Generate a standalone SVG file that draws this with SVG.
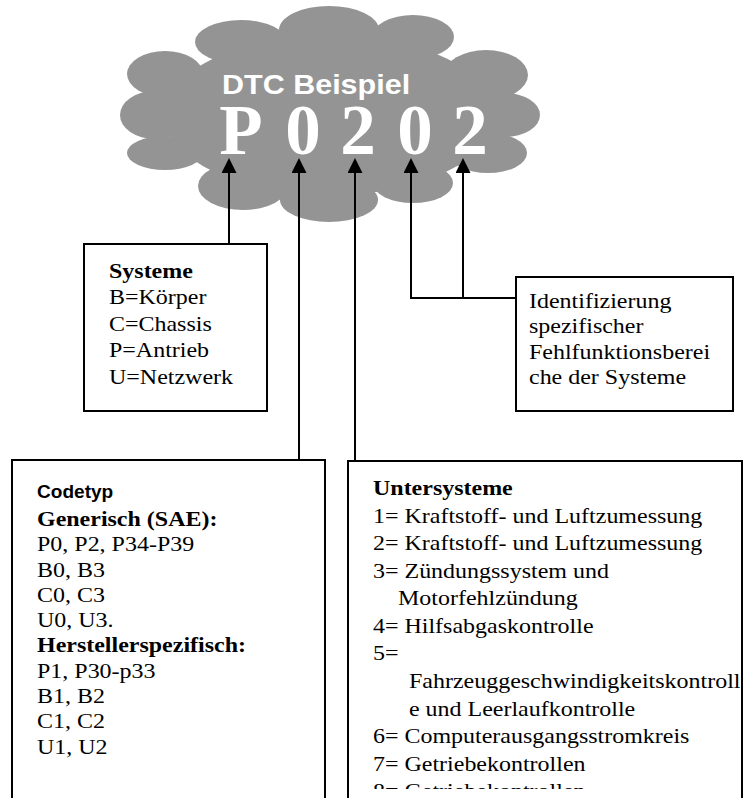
<svg xmlns="http://www.w3.org/2000/svg" width="744" height="798" viewBox="0 0 744 798">
<style>
.box{fill:#fff;stroke:#000;stroke-width:2}
.ln{fill:none;stroke:#000;stroke-width:2}
.tm{font-family:"Liberation Serif","Times New Roman",serif;font-size:22px;fill:#000}
.b{font-weight:bold}
.ar{font-family:"Liberation Sans",Arial,sans-serif;font-weight:bold}
.big{font-family:"Liberation Serif","Times New Roman",serif;font-weight:bold;font-size:71px;fill:#fff;text-anchor:middle}
</style>
<defs>
<marker id="ah" viewBox="0 0 15 15" refX="13" refY="7.5" markerWidth="15" markerHeight="15" markerUnits="userSpaceOnUse" orient="auto">
<path d="M0,0 L15,7.5 L0,15 z" fill="#000"/>
</marker>
<clipPath id="clipU"><rect x="348" y="461" width="396" height="328"/></clipPath>
</defs>
<rect width="744" height="798" fill="#fff"/>
<g id="cloud" fill="#949494">
<ellipse cx="330" cy="115" rx="165" ry="80"/>
<ellipse cx="241" cy="42" rx="46" ry="22"/>
<ellipse cx="329" cy="30" rx="50" ry="24"/>
<ellipse cx="413" cy="37" rx="41" ry="22"/>
<ellipse cx="486" cy="75" rx="42" ry="25"/>
<ellipse cx="505" cy="115" rx="35" ry="22"/>
<ellipse cx="488" cy="153" rx="39" ry="20"/>
<ellipse cx="413" cy="183" rx="40" ry="20"/>
<ellipse cx="329" cy="200" rx="49" ry="22"/>
<ellipse cx="243" cy="186" rx="45" ry="24"/>
<ellipse cx="165" cy="153" rx="38" ry="17"/>
<ellipse cx="155" cy="115" rx="35" ry="24"/>
<ellipse cx="165" cy="74" rx="38" ry="23"/>
<g transform="translate(222 0) scale(1.09 1)"><text class="ar" x="0" y="94" font-size="28" fill="#fff">DTC Beispiel</text></g>
<text class="big" x="241" y="154">P</text>
<text class="big" x="303" y="154">0</text>
<text class="big" x="358" y="154">2</text>
<text class="big" x="415" y="154">0</text>
<text class="big" x="470" y="154">2</text>
</g>
<g id="connectors">
<path class="ln" d="M229 244 L229 160" marker-end="url(#ah)"/>
<path class="ln" d="M299 460 L299 160" marker-end="url(#ah)"/>
<path class="ln" d="M355 461 L355 160" marker-end="url(#ah)"/>
<path class="ln" d="M411 298 L411 160" marker-end="url(#ah)"/>
<path class="ln" d="M463 298 L463 160" marker-end="url(#ah)"/>
<path class="ln" d="M410 298 L516 298"/>
</g>
<g id="systeme">
<rect class="box" x="84" y="244" width="183" height="167"/>
<g transform="translate(109 0) scale(1.09 1)" class="tm">
<text x="0" y="278" class="b">Systeme</text>
<text x="0" y="304.5">B=Körper</text>
<text x="0" y="331">C=Chassis</text>
<text x="0" y="357.5">P=Antrieb</text>
<text x="0" y="384">U=Netzwerk</text>
</g>
</g>
<g id="identifizierung">
<rect class="box" x="516" y="277" width="217" height="134"/>
<g transform="translate(529 0) scale(1.09 1)" class="tm">
<text x="0" y="308">Identifizierung</text>
<text x="0" y="333.5">spezifischer</text>
<text x="0" y="359">Fehlfunktionsberei</text>
<text x="0" y="384">che der Systeme</text>
</g>
</g>
<g id="codetyp">
<rect class="box" x="12" y="460" width="313" height="360"/>
<g transform="translate(37 0) scale(1.09 1)">
<text x="0" y="498" class="ar" font-size="17.5">Codetyp</text>
<g class="tm">
<text x="0" y="526" class="b">Generisch (SAE):</text>
<text x="0" y="551.3">P0, P2, P34-P39</text>
<text x="0" y="576.6">B0, B3</text>
<text x="0" y="601.9">C0, C3</text>
<text x="0" y="627.2">U0, U3.</text>
<text x="0" y="652.5" class="b">Herstellerspezifisch:</text>
<text x="0" y="677.8">P1, P30-p33</text>
<text x="0" y="703.1">B1, B2</text>
<text x="0" y="728.4">C1, C2</text>
<text x="0" y="753.7">U1, U2</text>
</g>
</g>
</g>
<g id="untersysteme">
<rect class="box" x="348" y="461" width="394" height="360"/>
<g clip-path="url(#clipU)">
<g transform="translate(373 0) scale(1.09 1)" class="tm">
<text x="0" y="495" class="b">Untersysteme</text>
<text x="0" y="523">1= Kraftstoff- und Luftzumessung</text>
<text x="0" y="550">2= Kraftstoff- und Luftzumessung</text>
<text x="0" y="578">3= Zündungssystem und</text>
<text x="23" y="605">Motorfehlzündung</text>
<text x="0" y="633">4= Hilfsabgaskontrolle</text>
<text x="0" y="660">5=</text>
<text x="33" y="688">Fahrzeuggeschwindigkeitskontroll</text>
<text x="33" y="716">e und Leerlaufkontrolle</text>
<text x="0" y="743">6= Computerausgangsstromkreis</text>
<text x="0" y="771">7= Getriebekontrollen</text>
<text x="0" y="798">8= Getriebekontrollen</text>
</g>
</g>
</g>
</svg>
